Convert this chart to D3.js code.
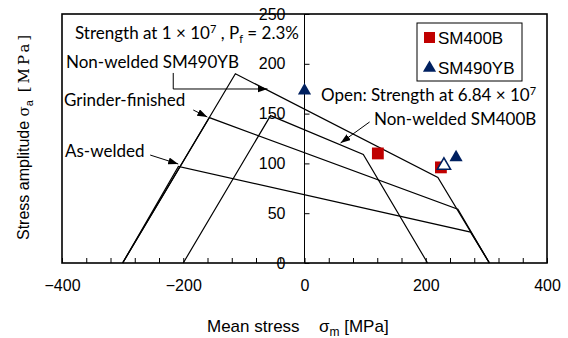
<!DOCTYPE html>
<html>
<head>
<meta charset="utf-8">
<script src="https://cdn.jsdelivr.net/npm/d3@7"></script>
<style>
  body { margin: 0; background: #fff; }
  svg text { fill: #000; }
  .ann { font-family: Lato, "Noto Sans", sans-serif; font-size: 17px; }
  .tick text { font-family: "Liberation Sans", Arial, sans-serif; font-size: 16px; }
</style>
</head>
<body>
<div id="chart"></div>
<script>
// Haigh diagram: strength lines (mean stress vs stress amplitude)
var sm490ybX = [-300, -114, 220, 305];
var sm490ybY = [0, 190, 86, 0];
var sm400bX = [-200, -56, 97, 203];
var sm400bY = [0, 148, 109, 0];
var grinderX = [-300, -157, 253, 305];
var grinderY = [0, 146, 54, 0];
var asWeldedX = [-300, -208, 274, 305];
var asWeldedY = [0, 97, 31, 0];

// test points
var sm400bPtX = [121, 225];
var sm400bPtY = [110, 96];
var sm490ybPtX = [0, 250];
var sm490ybPtY = [173, 106];
var openPtX = [230];
var openPtY = [98];

var xTicks = [-400, -200, 0, 200, 400];
var yTicks = [0, 50, 100, 150, 200, 250];

var width = 568, height = 338;
var svg = d3.select("#chart").append("svg")
  .attr("width", width).attr("height", height);

var x = d3.scaleLinear().domain([-400, 400]).range([62, 547]);
var y = d3.scaleLinear().domain([0, 250]).range([263, 14]);

var defs = svg.append("defs");
defs.append("marker")
  .attr("id", "arr")
  .attr("markerUnits", "userSpaceOnUse")
  .attr("markerWidth", 11).attr("markerHeight", 8)
  .attr("refX", 10).attr("refY", 3.5)
  .attr("orient", "auto")
  .append("path").attr("d", "M0,0 L10,3.5 L0,7 Z").attr("fill", "#000");

// bottom axis, ticks inward every 40
var xAxis = d3.axisBottom(x)
  .tickValues(d3.range(-400, 401, 40))
  .tickSize(-5)
  .tickPadding(17)
  .tickFormat(function(d) { return xTicks.indexOf(d) >= 0 ? d3.format("")(d) : ""; });
var gx = svg.append("g").attr("transform", "translate(0," + y(0) + ")").call(xAxis);
gx.select(".domain").remove();
gx.selectAll(".tick line").attr("stroke", "#000").attr("stroke-width", 1);

// y axis at mean stress = 0 : ticks to the right, labels to the left
var gyT = svg.append("g").attr("transform", "translate(" + x(0) + ",0)")
  .call(d3.axisRight(y).tickValues(yTicks).tickSize(5).tickFormat(""));
gyT.select(".domain").attr("d", "M0," + y(0) + "V" + y(250)).attr("stroke", "#000");
var gyL = svg.append("g").attr("transform", "translate(" + x(0) + ",0)")
  .call(d3.axisLeft(y).tickValues(yTicks).tickSize(0).tickPadding(19));
gyL.select(".domain").remove();

// frame
svg.append("rect")
  .attr("x", x(-400)).attr("y", y(250))
  .attr("width", x(400) - x(-400)).attr("height", y(0) - y(250))
  .attr("fill", "none").attr("stroke", "#000").attr("stroke-width", 1.6);

var line = d3.line().x(function(d) { return x(d[0]); }).y(function(d) { return y(d[1]); });
[[sm490ybX, sm490ybY], [sm400bX, sm400bY], [grinderX, grinderY], [asWeldedX, asWeldedY]].forEach(function(s) {
  svg.append("path")
    .datum(d3.zip(s[0], s[1]))
    .attr("d", line)
    .attr("fill", "none").attr("stroke", "#000").attr("stroke-width", 1.2);
});

// points
var red = "#c00000", navy = "#002060";
var sq = d3.symbol().type(d3.symbolSquare).size(140);
var tri = d3.symbol().type(d3.symbolTriangle).size(75);
svg.selectAll(".sq").data(d3.zip(sm400bPtX, sm400bPtY)).enter().append("path")
  .attr("d", sq).attr("fill", red)
  .attr("transform", function(d) { return "translate(" + x(d[0]) + "," + y(d[1]) + ")"; });
svg.selectAll(".tri").data(d3.zip(sm490ybPtX, sm490ybPtY)).enter().append("path")
  .attr("d", tri).attr("fill", navy)
  .attr("transform", function(d) { return "translate(" + x(d[0]) + "," + y(d[1]) + ")"; });
svg.selectAll(".otri").data(d3.zip(openPtX, openPtY)).enter().append("path")
  .attr("d", tri).attr("fill", "#fff").attr("stroke", navy).attr("stroke-width", 1.6)
  .attr("transform", function(d) { return "translate(" + x(d[0]) + "," + y(d[1]) + ")"; });

// arrows (data coords)
function arrow(pts) {
  svg.append("path").datum(pts).attr("d", line)
    .attr("fill", "none").attr("stroke", "#000").attr("stroke-width", 1)
    .attr("marker-end", "url(#arr)");
}
arrow([[-216.5, 190.8], [-216.5, 174.7], [-61, 174.7]]);
arrow([[-183.5, 153.6], [-160.3, 146.6]]);
arrow([[-254.5, 108.4], [-208.3, 99.4]]);
arrow([[107.4, 141.6], [59.5, 120.5]]);

// annotations
var t1 = svg.append("text").attr("class", "ann").attr("x", 75).attr("y", 39);
t1.append("tspan").text("Strength at 1 × 10");
t1.append("tspan").attr("dy", -6).style("font-size", "11px").text("7");
t1.append("tspan").attr("dy", 6).text(" , P");
t1.append("tspan").attr("dy", 4).style("font-size", "11px").text("f");
t1.append("tspan").attr("dy", -4).text(" = 2.3%");

svg.append("text").attr("class", "ann").attr("x", 66).attr("y", 68).text("Non-welded SM490YB");
svg.append("text").attr("class", "ann").attr("x", 64).attr("y", 106).text("Grinder-finished");
svg.append("text").attr("class", "ann").attr("x", 65).attr("y", 157).text("As-welded");
var t2 = svg.append("text").attr("class", "ann").attr("x", 321).attr("y", 101);
t2.append("tspan").text("Open: Strength at 6.84 × 10");
t2.append("tspan").attr("dy", -6).style("font-size", "11px").text("7");
svg.append("text").attr("class", "ann").attr("x", 374).attr("y", 125).text("Non-welded SM400B");

// legend
var lg = svg.append("g");
lg.append("rect").attr("x", 417).attr("y", 23).attr("width", 105).attr("height", 58)
  .attr("fill", "#fff").attr("stroke", "#000").attr("stroke-width", 1);
lg.append("path").attr("d", d3.symbol().type(d3.symbolSquare).size(121)).attr("fill", red)
  .attr("transform", "translate(429.5,37.5)");
lg.append("path").attr("d", tri).attr("fill", navy).attr("transform", "translate(429.5,68)");
lg.append("text").attr("x", 438).attr("y", 44).style("font-family", "'Liberation Sans', Arial, sans-serif")
  .style("font-size", "17px").text("SM400B");
lg.append("text").attr("x", 438).attr("y", 74).style("font-family", "'Liberation Sans', Arial, sans-serif")
  .style("font-size", "17px").text("SM490YB");

// axis titles
var xt = svg.append("text").attr("x", 207).attr("y", 332)
  .style("font-family", "'Liberation Sans', Arial, sans-serif").style("font-size", "17px");
xt.append("tspan").text("Mean stress");
xt.append("tspan").attr("x", 319).text("σ");
xt.append("tspan").attr("dy", 4).style("font-size", "12px").text("m");
xt.append("tspan").attr("dy", -4).text(" [MPa]");

var yt = svg.append("text")
  .attr("transform", "translate(29,240) rotate(-90)")
  .style("font-family", "'Liberation Sans', Arial, sans-serif").style("font-size", "16px");
yt.append("tspan").text("Stress amplitude ");
yt.append("tspan").style("font-family", "'DejaVu Serif', serif").style("font-size", "15px").text("σ");
yt.append("tspan").attr("dy", 4).style("font-size", "11px").text("a");
yt.append("tspan").attr("dy", -4).style("font-family", "'DejaVu Serif', serif").style("font-size", "15px")
  .style("letter-spacing", "3px").text(" [MPa]");
</script>
</body>
</html>
